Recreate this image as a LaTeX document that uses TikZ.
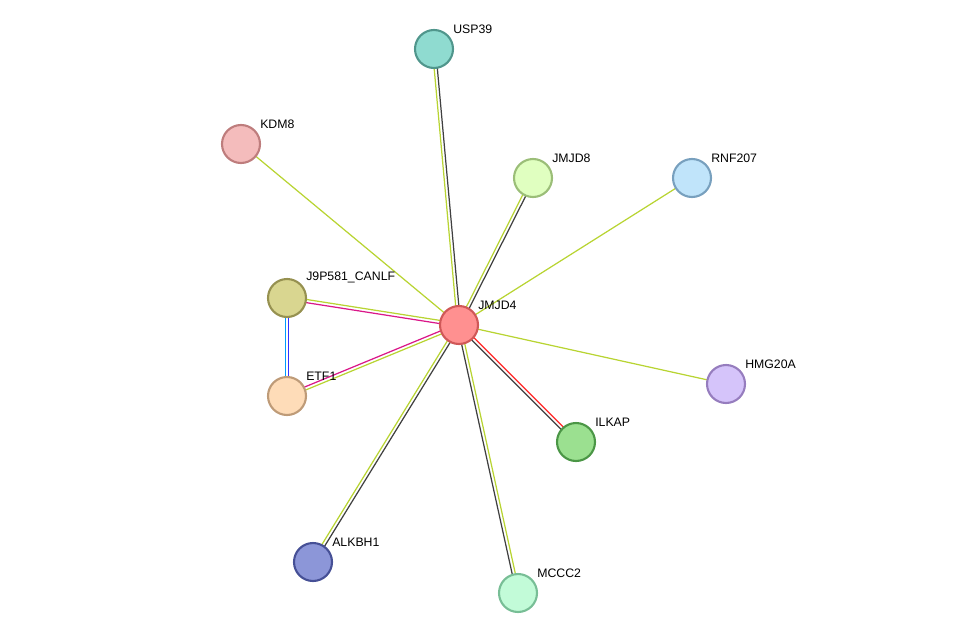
\documentclass[tikz,border=0pt]{standalone}
\usepackage{fontspec}
\setmainfont{Liberation Sans}
\usetikzlibrary{calc, backgrounds}
\definecolor{yg}{HTML}{B8D432}
\tikzset{
  prot/.style={circle, minimum size=0.76cm, line width=1.2pt, inner sep=0pt},
  lbl/.style={font=\fontsize{7}{8}\selectfont, inner sep=0.5pt, anchor=south west, xshift=2.2pt},
}
\newcommand{\twin}[4]{% a, b, colour1, colour2
  \draw[#3, line width=0.7pt] ($(#1)!0.9pt!90:(#2)$) -- ($(#2)!0.9pt!-90:(#1)$);
  \draw[#4, line width=0.7pt] ($(#1)!0.9pt!-90:(#2)$) -- ($(#2)!0.9pt!90:(#1)$);}
\begin{document}
\begin{tikzpicture}[x=0.02cm, y=-0.02cm]
\useasboundingbox (0,0) rectangle (976,639);
\node[prot, fill={rgb,255:red,255;green,144;blue,144}, draw={rgb,255:red,208;green,88;blue,88}, label={[lbl]45:JMJD4}] (jmjd4) at (459,325) {};
\node[prot, fill={rgb,255:red,143;green,219;blue,208}, draw={rgb,255:red,80;green,150;blue,140}, label={[lbl]45:USP39}] (usp39) at (434,49) {};
\node[prot, fill={rgb,255:red,244;green,188;blue,188}, draw={rgb,255:red,190;green,125;blue,125}, label={[lbl]45:KDM8}] (kdm8) at (241,144) {};
\node[prot, fill={rgb,255:red,224;green,255;blue,192}, draw={rgb,255:red,155;green,190;blue,120}, label={[lbl]45:JMJD8}] (jmjd8) at (533,178) {};
\node[prot, fill={rgb,255:red,192;green,228;blue,250}, draw={rgb,255:red,120;green,160;blue,190}, label={[lbl]45:RNF207}] (rnf207) at (692,178) {};
\node[prot, fill={rgb,255:red,217;green,214;blue,144}, draw={rgb,255:red,150;green,145;blue,80}, label={[lbl]45:J9P581\_CANLF}] (j9p) at (287,298) {};
\node[prot, fill={rgb,255:red,254;green,220;blue,184}, draw={rgb,255:red,190;green,155;blue,120}, label={[lbl]45:ETF1}] (etf1) at (287,396) {};
\node[prot, fill={rgb,255:red,213;green,196;blue,250}, draw={rgb,255:red,150;green,125;blue,190}, label={[lbl]45:HMG20A}] (hmg20a) at (726,384) {};
\node[prot, fill={rgb,255:red,155;green,224;blue,144}, draw={rgb,255:red,75;green,150;blue,70}, label={[lbl]45:ILKAP}] (ilkap) at (576,442) {};
\node[prot, fill={rgb,255:red,140;green,150;blue,216}, draw={rgb,255:red,70;green,80;blue,150}, label={[lbl]45:ALKBH1}] (alkbh1) at (313,562) {};
\node[prot, fill={rgb,255:red,194;green,251;blue,216}, draw={rgb,255:red,120;green,190;blue,150}, label={[lbl]45:MCCC2}] (mccc2) at (518,593) {};
\begin{scope}[on background layer]
  \twin{jmjd4.center}{usp39.center}{yg}{black!75}
  \draw[yg, line width=0.7pt] (jmjd4.center) -- (kdm8.center);
  \twin{jmjd4.center}{jmjd8.center}{yg}{black!75}
  \draw[yg, line width=0.7pt] (jmjd4.center) -- (rnf207.center);
  \twin{jmjd4.center}{j9p.center}{magenta!80!violet}{yg}
  \twin{jmjd4.center}{etf1.center}{yg}{magenta!80!violet}
  \draw[yg, line width=0.7pt] (jmjd4.center) -- (hmg20a.center);
  \twin{jmjd4.center}{ilkap.center}{red!85}{black!75}
  \twin{jmjd4.center}{alkbh1.center}{black!75}{yg}
  \twin{jmjd4.center}{mccc2.center}{yg}{black!75}
  \twin{j9p.center}{etf1.center}{blue!80}{blue!40!cyan}
\end{scope}
\end{tikzpicture}
\end{document}
